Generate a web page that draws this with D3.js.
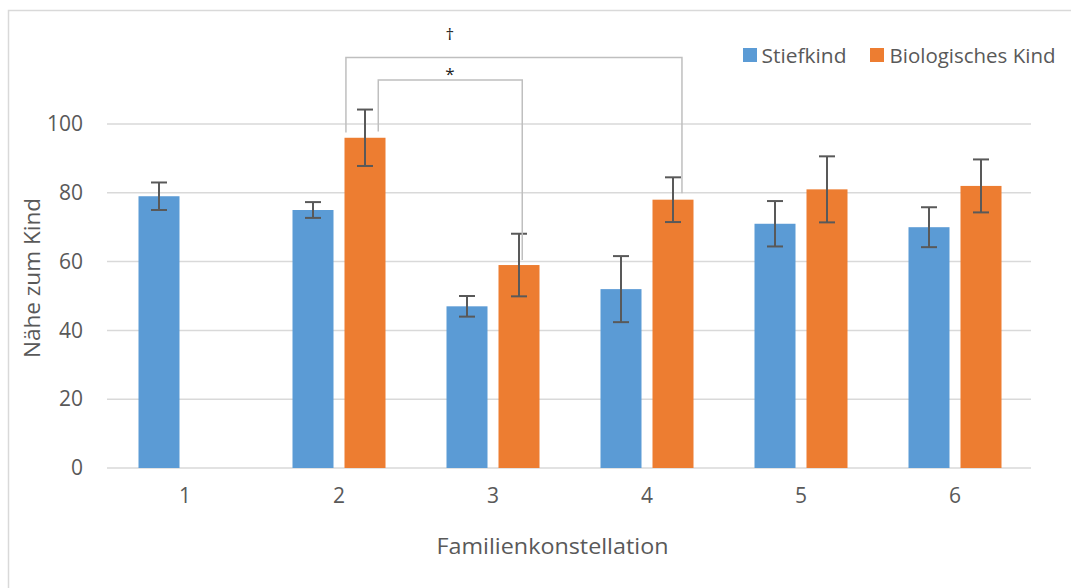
<!DOCTYPE html>
<html><head><meta charset="utf-8">
<script src="https://cdn.jsdelivr.net/npm/d3@7"></script>
<style>html,body{margin:0;padding:0;background:#fff;}svg{display:block;font-family:"Open Sans",sans-serif;}</style>
</head><body>
<svg id="c" width="1071" height="588"></svg>
<script>
const categories = ["1","2","3","4","5","6"];
const seriesNames = ["Stiefkind","Biologisches Kind"];
const stiefValues = [79, 75, 47, 52, 71, 70];
const stiefErrors = [4, 2.3, 3, 9.6, 6.6, 5.8];
const bioValues = [null, 96, 59, 78, 81, 82];
const bioErrors = [null, 8.2, 9.1, 6.5, 9.6, 7.7];
const yTicks = [0, 20, 40, 60, 80, 100];
const xTitle = "Familienkonstellation";
const yTitle = "Nähe zum Kind";
// brackets: category-index positions (1-based, fractional) and y levels in data units
const bracketLabels = ["†", "*"];
const bracketLeft = [2.045, 2.255];
const bracketRight = [4.227, 3.19];
const bracketTop = [119.3, 112.8];
const bracketLeftEnd = [97.5, 97.8];
const bracketRightEnd = [79.9, 60.5];
const bracketLabelX = [2.72, 2.72];
const bracketLabelY = [126.3, 114.6];

const colors = ["#5B9BD5", "#ED7D31"];
const textColor = "#595959";
const svg = d3.select("#c");

// chart border (top and left visible)
svg.append("rect").attr("x", 8.5).attr("y", 10.5).attr("width", 1100).attr("height", 700)
  .attr("fill", "none").attr("stroke", "#d9d9d9").attr("stroke-width", 1.5);

const plotL = 108, plotR = 1032, plotB = 468, plotT = 124;
const x0 = d3.scaleBand().domain(categories).range([plotL, plotR]).padding(0);
const groupW = 93;
const x1 = d3.scaleBand().domain(seriesNames).range([-groupW/2, groupW/2]).paddingInner(11/52).paddingOuter(0);
const y = d3.scaleLinear().domain([0, 100]).range([plotB, plotT]);
const xi = d3.scaleLinear().domain([0.5, 6.5]).range([plotL, plotR]);

// gridlines
svg.append("g").selectAll("line").data(yTicks).join("line")
  .attr("x1", plotL - 1).attr("x2", plotR - 1)
  .attr("y1", d => y(d)).attr("y2", d => y(d))
  .attr("stroke", "#d9d9d9").attr("stroke-width", 1.5);

// y tick labels via axis
const yAxis = svg.append("g").attr("transform", `translate(${plotL},0)`)
  .call(d3.axisLeft(y).tickValues(yTicks).tickSize(0).tickPadding(25));
yAxis.select(".domain").remove();
yAxis.selectAll("text").attr("fill", textColor).style("font-size", "21px").style("font-family", "Open Sans");

// x tick labels via axis
const xAxis = svg.append("g").attr("transform", `translate(0,${plotB})`)
  .call(d3.axisBottom(x0).tickSize(0).tickPadding(20));
xAxis.select(".domain").remove();
xAxis.selectAll("text").attr("fill", textColor).style("font-size", "21px").style("font-family", "Open Sans");

// bars
const rows = categories.map((c, i) => [
  {cat: c, s: seriesNames[0], v: stiefValues[i], e: stiefErrors[i], col: colors[0]},
  {cat: c, s: seriesNames[1], v: bioValues[i], e: bioErrors[i], col: colors[1]}
]).flat().filter(d => d.v != null);

const cx = d => x0(d.cat) + x0.bandwidth()/2 + x1(d.s);
svg.append("g").selectAll("rect").data(rows).join("rect")
  .attr("x", d => cx(d)).attr("width", x1.bandwidth())
  .attr("y", d => y(d.v)).attr("height", d => y(0) - y(d.v))
  .attr("fill", d => d.col);

// error bars
const eb = svg.append("g").attr("stroke", "#595959").attr("stroke-width", 2);
rows.forEach(d => {
  const mx = cx(d) + x1.bandwidth()/2;
  eb.append("line").attr("x1", mx).attr("x2", mx).attr("y1", y(d.v + d.e)).attr("y2", y(d.v - d.e));
  eb.append("line").attr("x1", mx - 8).attr("x2", mx + 8).attr("y1", y(d.v + d.e)).attr("y2", y(d.v + d.e));
  eb.append("line").attr("x1", mx - 8).attr("x2", mx + 8).attr("y1", y(d.v - d.e)).attr("y2", y(d.v - d.e));
});

// brackets
const bg = svg.append("g");
bracketLabels.forEach((lab, i) => {
  const pts = [[xi(bracketLeft[i]), y(bracketLeftEnd[i])], [xi(bracketLeft[i]), y(bracketTop[i])],
               [xi(bracketRight[i]), y(bracketTop[i])], [xi(bracketRight[i]), y(bracketRightEnd[i])]];
  bg.append("path").attr("d", d3.line()(pts)).attr("fill", "none")
    .attr("stroke", "#bfbfbf").attr("stroke-width", 1.5);
  bg.append("text").attr("x", xi(bracketLabelX[i])).attr("y", y(bracketLabelY[i]))
    .attr("text-anchor", "middle").attr("dominant-baseline", "central")
    .attr("fill", "#222").style("font-size", "17px").text(lab);
});

// axis titles
svg.append("text").attr("x", 552.5).attr("y", 545).attr("text-anchor", "middle")
  .attr("dominant-baseline", "central").attr("fill", textColor)
  .style("font-size", "22px").attr("textLength", 232).attr("lengthAdjust", "spacingAndGlyphs").text(xTitle);
svg.append("text").attr("transform", "translate(31,278) rotate(-90)").attr("text-anchor", "middle")
  .attr("dominant-baseline", "central").attr("fill", textColor)
  .style("font-size", "22px").attr("textLength", 160).attr("lengthAdjust", "spacingAndGlyphs").text(yTitle);

// legend
const legX = [743, 870], legTextX = [761.5, 889.5], legW = [85, 166];
const lg = svg.append("g");
seriesNames.forEach((s, i) => {
  lg.append("rect").attr("x", legX[i]).attr("y", 48).attr("width", 14).attr("height", 14).attr("fill", colors[i]);
  lg.append("text").attr("x", legTextX[i]).attr("y", 55).attr("dominant-baseline", "central")
    .attr("fill", textColor).style("font-size", "20px")
    .attr("textLength", legW[i]).attr("lengthAdjust", "spacingAndGlyphs").text(s);
});
</script>
</body></html>
